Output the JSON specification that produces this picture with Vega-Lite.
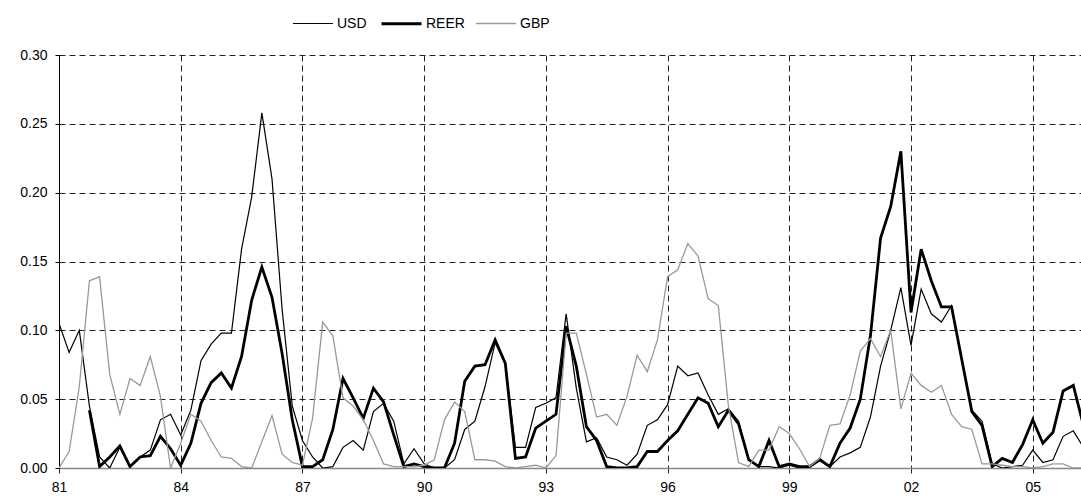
{
  "$schema": "https://vega.github.io/schema/vega-lite/v6.json",
  "width": 1022,
  "height": 413,
  "autosize": {"type": "none"},
  "padding": {"left": 59, "top": 55, "right": 0, "bottom": 32},
  "background": "white",
  "config": {"view": {"stroke": null}, "font": "Liberation Sans"},
  "data": {"values": [
    {"t":1981,"USD":0.105,"REER":null,"GBP":0.000},
    {"t":1981.25,"USD":0.084,"REER":null,"GBP":0.012},
    {"t":1981.5,"USD":0.100,"REER":null,"GBP":0.059},
    {"t":1981.75,"USD":0.045,"REER":0.042,"GBP":0.136},
    {"t":1982,"USD":0.008,"REER":0.001,"GBP":0.139},
    {"t":1982.25,"USD":0.000,"REER":0.008,"GBP":0.068},
    {"t":1982.5,"USD":0.015,"REER":0.016,"GBP":0.039},
    {"t":1982.75,"USD":0.001,"REER":0.001,"GBP":0.065},
    {"t":1983,"USD":0.008,"REER":0.008,"GBP":0.060},
    {"t":1983.25,"USD":0.013,"REER":0.009,"GBP":0.081},
    {"t":1983.5,"USD":0.035,"REER":0.023,"GBP":0.052},
    {"t":1983.75,"USD":0.039,"REER":0.014,"GBP":0.000},
    {"t":1984,"USD":0.024,"REER":0.002,"GBP":0.018},
    {"t":1984.25,"USD":0.042,"REER":0.018,"GBP":0.039},
    {"t":1984.5,"USD":0.078,"REER":0.047,"GBP":0.034},
    {"t":1984.75,"USD":0.090,"REER":0.062,"GBP":0.020},
    {"t":1985,"USD":0.098,"REER":0.069,"GBP":0.008},
    {"t":1985.25,"USD":0.098,"REER":0.058,"GBP":0.007},
    {"t":1985.5,"USD":0.159,"REER":0.081,"GBP":0.001},
    {"t":1985.75,"USD":0.197,"REER":0.122,"GBP":0.000},
    {"t":1986,"USD":0.258,"REER":0.146,"GBP":0.019},
    {"t":1986.25,"USD":0.210,"REER":0.124,"GBP":0.038},
    {"t":1986.5,"USD":0.115,"REER":0.083,"GBP":0.010},
    {"t":1986.75,"USD":0.045,"REER":0.035,"GBP":0.004},
    {"t":1987,"USD":0.020,"REER":0.001,"GBP":0.002},
    {"t":1987.25,"USD":0.008,"REER":0.001,"GBP":0.036},
    {"t":1987.5,"USD":0.000,"REER":0.006,"GBP":0.106},
    {"t":1987.75,"USD":0.001,"REER":0.028,"GBP":0.096},
    {"t":1988,"USD":0.015,"REER":0.065,"GBP":0.051},
    {"t":1988.25,"USD":0.020,"REER":0.051,"GBP":0.045},
    {"t":1988.5,"USD":0.013,"REER":0.036,"GBP":0.035},
    {"t":1988.75,"USD":0.041,"REER":0.058,"GBP":0.020},
    {"t":1989,"USD":0.047,"REER":0.048,"GBP":0.003},
    {"t":1989.25,"USD":0.034,"REER":0.024,"GBP":0.001},
    {"t":1989.5,"USD":0.003,"REER":0.001,"GBP":0.001},
    {"t":1989.75,"USD":0.014,"REER":0.003,"GBP":0.001},
    {"t":1990,"USD":0.003,"REER":0.001,"GBP":0.002},
    {"t":1990.25,"USD":0.000,"REER":0.000,"GBP":0.006},
    {"t":1990.5,"USD":0.000,"REER":0.000,"GBP":0.035},
    {"t":1990.75,"USD":0.006,"REER":0.018,"GBP":0.048},
    {"t":1991,"USD":0.028,"REER":0.063,"GBP":0.041},
    {"t":1991.25,"USD":0.034,"REER":0.074,"GBP":0.006},
    {"t":1991.5,"USD":0.059,"REER":0.075,"GBP":0.006},
    {"t":1991.75,"USD":0.091,"REER":0.093,"GBP":0.005},
    {"t":1992,"USD":0.076,"REER":0.076,"GBP":0.001},
    {"t":1992.25,"USD":0.015,"REER":0.007,"GBP":0.000},
    {"t":1992.5,"USD":0.015,"REER":0.008,"GBP":0.001},
    {"t":1992.75,"USD":0.044,"REER":0.029,"GBP":0.002},
    {"t":1993,"USD":0.047,"REER":0.034,"GBP":0.000},
    {"t":1993.25,"USD":0.051,"REER":0.039,"GBP":0.009},
    {"t":1993.5,"USD":0.112,"REER":0.103,"GBP":0.098},
    {"t":1993.75,"USD":0.058,"REER":0.074,"GBP":0.098},
    {"t":1994,"USD":0.019,"REER":0.030,"GBP":0.068},
    {"t":1994.25,"USD":0.022,"REER":0.020,"GBP":0.037},
    {"t":1994.5,"USD":0.008,"REER":0.001,"GBP":0.039},
    {"t":1994.75,"USD":0.006,"REER":0.000,"GBP":0.031},
    {"t":1995,"USD":0.002,"REER":0.000,"GBP":0.052},
    {"t":1995.25,"USD":0.010,"REER":0.001,"GBP":0.082},
    {"t":1995.5,"USD":0.031,"REER":0.012,"GBP":0.070},
    {"t":1995.75,"USD":0.035,"REER":0.012,"GBP":0.093},
    {"t":1996,"USD":0.046,"REER":0.020,"GBP":0.139},
    {"t":1996.25,"USD":0.074,"REER":0.027,"GBP":0.144},
    {"t":1996.5,"USD":0.067,"REER":0.039,"GBP":0.163},
    {"t":1996.75,"USD":0.069,"REER":0.051,"GBP":0.154},
    {"t":1997,"USD":0.053,"REER":0.047,"GBP":0.123},
    {"t":1997.25,"USD":0.039,"REER":0.030,"GBP":0.118},
    {"t":1997.5,"USD":0.043,"REER":0.042,"GBP":0.045},
    {"t":1997.75,"USD":0.034,"REER":0.032,"GBP":0.004},
    {"t":1998,"USD":0.006,"REER":0.006,"GBP":0.001},
    {"t":1998.25,"USD":0.001,"REER":0.001,"GBP":0.013},
    {"t":1998.5,"USD":0.001,"REER":0.020,"GBP":0.013},
    {"t":1998.75,"USD":0.000,"REER":0.001,"GBP":0.030},
    {"t":1999,"USD":0.002,"REER":0.003,"GBP":0.025},
    {"t":1999.25,"USD":0.000,"REER":0.001,"GBP":0.014},
    {"t":1999.5,"USD":0.001,"REER":0.001,"GBP":0.001},
    {"t":1999.75,"USD":0.007,"REER":0.006,"GBP":0.007},
    {"t":2000,"USD":0.001,"REER":0.001,"GBP":0.031},
    {"t":2000.25,"USD":0.008,"REER":0.018,"GBP":0.032},
    {"t":2000.5,"USD":0.011,"REER":0.029,"GBP":0.053},
    {"t":2000.75,"USD":0.015,"REER":0.050,"GBP":0.085},
    {"t":2001,"USD":0.037,"REER":0.096,"GBP":0.094},
    {"t":2001.25,"USD":0.074,"REER":0.167,"GBP":0.081},
    {"t":2001.5,"USD":0.100,"REER":0.190,"GBP":0.100},
    {"t":2001.75,"USD":0.131,"REER":0.230,"GBP":0.043},
    {"t":2002,"USD":0.089,"REER":0.113,"GBP":0.069},
    {"t":2002.25,"USD":0.130,"REER":0.159,"GBP":0.060},
    {"t":2002.5,"USD":0.112,"REER":0.136,"GBP":0.055},
    {"t":2002.75,"USD":0.106,"REER":0.117,"GBP":0.060},
    {"t":2003,"USD":0.118,"REER":0.117,"GBP":0.039},
    {"t":2003.25,"USD":0.078,"REER":0.079,"GBP":0.030},
    {"t":2003.5,"USD":0.042,"REER":0.041,"GBP":0.028},
    {"t":2003.75,"USD":0.034,"REER":0.031,"GBP":0.003},
    {"t":2004,"USD":0.003,"REER":0.001,"GBP":0.003},
    {"t":2004.25,"USD":0.000,"REER":0.007,"GBP":0.002},
    {"t":2004.5,"USD":0.001,"REER":0.004,"GBP":0.001},
    {"t":2004.75,"USD":0.002,"REER":0.017,"GBP":0.001},
    {"t":2005,"USD":0.013,"REER":0.035,"GBP":0.000},
    {"t":2005.25,"USD":0.004,"REER":0.018,"GBP":0.001},
    {"t":2005.5,"USD":0.006,"REER":0.026,"GBP":0.003},
    {"t":2005.75,"USD":0.023,"REER":0.056,"GBP":0.003},
    {"t":2006,"USD":0.027,"REER":0.060,"GBP":0.000},
    {"t":2006.25,"USD":0.015,"REER":0.031,"GBP":0.000}
  ]},
  "transform": [{"fold": ["USD", "REER", "GBP"], "as": ["series", "value"]}],
  "mark": {"type": "line", "clip": true, "strokeJoin": "miter", "strokeMiterLimit": 4},
  "encoding": {
    "x": {
      "field": "t", "type": "quantitative",
      "scale": {"domain": [1981, 2006.19], "nice": false, "zero": false},
      "axis": {
        "values": [1981, 1984, 1987, 1990, 1993, 1996, 1999, 2002, 2005],
        "labelExpr": "slice(toString(datum.value), 2)",
        "title": null, "grid": true, "gridDash": [6, 4], "gridColor": "#222", "gridOpacity": 1,
        "domainColor": "#888", "domainWidth": 1.5, "tickColor": "#222", "tickSize": 5,
        "labelFontSize": 14, "labelPadding": 7, "labelColor": "#000", "labelFlush": false
      }
    },
    "y": {
      "field": "value", "type": "quantitative",
      "scale": {"domain": [0, 0.3], "nice": false},
      "axis": {
        "values": [0, 0.05, 0.1, 0.15, 0.2, 0.25, 0.3],
        "format": ".2f", "title": null, "grid": true, "gridDash": [6, 4],
        "gridColor": {"condition": {"test": "datum.value === 0", "value": "transparent"}, "value": "#222"},
        "domainColor": "#000", "tickColor": "#000", "tickSize": 4,
        "labelFontSize": 14, "labelPadding": 8, "labelColor": "#000"
      }
    },
    "color": {
      "field": "series", "type": "nominal",
      "scale": {"domain": ["USD", "REER", "GBP"], "range": ["#000000", "#000000", "#999999"]},
      "legend": {"orient": "none", "legendX": 233, "legendY": -53, "direction": "horizontal", "title": null,
        "symbolType": "stroke", "symbolSize": 1600, "labelFontSize": 14, "labelColor": "#000",
        "columnPadding": 8, "labelOffset": 3}
    },
    "strokeWidth": {
      "field": "series", "type": "nominal",
      "scale": {"type": "ordinal", "domain": ["USD", "REER", "GBP"], "range": [1.2, 2.8, 1.3]},
      "legend": {"orient": "none", "legendX": 233, "legendY": -53, "direction": "horizontal", "title": null,
        "symbolType": "stroke", "symbolSize": 1600, "labelFontSize": 14, "labelColor": "#000",
        "columnPadding": 8, "labelOffset": 3}
    }
  }
}
